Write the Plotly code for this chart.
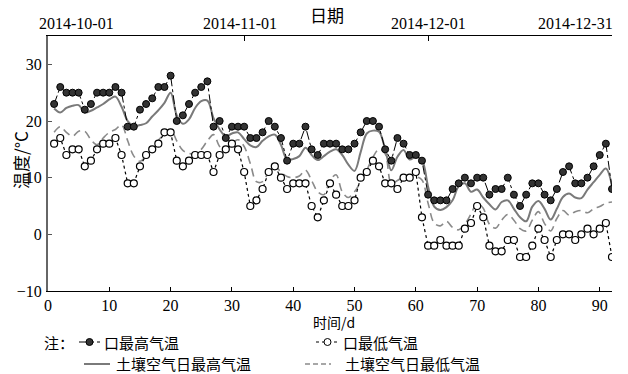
import plotly.graph_objects as go

days = list(range(1, 93))

daily_max = [23, 26, 25, 25, 25, 22, 23, 25, 25, 25, 26, 25, 19, 19, 22, 23, 24, 26, 26, 28,
             20, 21, 23, 25, 26, 27, 19, 20, 17, 19, 19, 19, 17, 17, 18, 20, 19, 17, 13, 16,
             16, 19, 15, 14, 16, 16, 16, 15, 15, 16, 18, 20, 20, 19, 15, 13, 17, 16, 14, 14,
             13, 7, 6, 6, 6, 8, 9, 10, 9, 10, 10, 7, 8, 8, 10, 7, 5, 7, 9, 9,
             7, 6, 8, 11, 12, 9, 9, 10, 12, 14, 16, 8]

daily_min = [16, 17, 14, 15, 15, 12, 13, 15, 16, 16, 17, 14, 9, 9, 12, 14, 15, 16, 18, 18,
             13, 12, 13, 14, 14, 14, 11, 14, 15, 16, 15, 11, 5, 6, 8, 11, 12, 10, 8, 9,
             9, 9, 5, 3, 6, 9, 7, 5, 5, 6, 10, 11, 13, 12, 9, 9, 8, 10, 10, 11,
             3, -2, -2, -1, -2, -2, -2, 1, 2, 5, 3, -2, -3, -3, -1, -1, -4, -4, -2, 1,
             -1, -4, -1, 0, 0, -1, 0, 1, 0, 1, 2, -4]

soil_max = [22.2, 21.5, 22.3, 22.7, 22.8, 21.5, 21.8, 22.4, 23.0, 23.8, 24.3, 22.5, 20.0, 19.1,
            19.3, 19.6, 20.8, 21.9, 23.2, 25.0, 21.0, 19.5, 20.3, 22.3, 23.5, 23.6, 20.5, 18.5,
            17.3, 17.8, 18.0, 16.8, 15.7, 15.4, 16.5, 17.3, 17.6, 15.8, 13.2, 13.3, 13.8, 15.3,
            14.0, 13.1, 13.8, 14.6, 15.0, 14.0, 12.3, 11.2, 14.5, 17.8, 18.3, 18.1, 15.0, 11.3,
            13.7, 14.9, 13.2, 13.7, 13.1, 8.4, 4.9, 4.3, 4.8, 6.0, 8.5, 9.0, 7.5, 7.9,
            6.5, 5.3, 4.4, 5.7, 6.0, 4.5, 3.0, 2.3, 4.9, 5.9, 4.5, 2.6, 4.5, 6.6,
            7.2, 6.5, 6.4, 7.9, 9.2, 10.5, 11.6, 8.6]

soil_min = [18.0, 19.0, 18.0, 17.3, 18.2, 18.2, 16.7, 15.8, 17.0, 18.0, 18.5, 19.3, 16.5, 13.8,
            12.9, 13.8, 15.2, 16.6, 17.7, 18.5, 16.5, 14.8, 14.3, 14.2, 15.0, 16.5, 17.6, 15.5,
            14.7, 16.0, 16.7, 15.5, 12.5, 9.3, 9.3, 11.0, 12.0, 11.0, 10.2, 10.0, 10.3, 11.3,
            9.5, 7.5, 7.0, 9.5, 10.5, 7.5, 6.5, 7.5, 9.3, 11.3, 13.6, 15.0, 14.2, 9.0,
            9.5, 10.1, 10.4, 10.2, 9.6, 5.5, 2.0, 1.5, 2.3, 1.2, 0.8, 1.8, 3.6, 5.5,
            4.6, 1.8, 1.1, 2.5, 3.5, 2.5, 1.0, 0.6, 2.5, 4.0, 1.9, 0.6, 2.8, 4.2,
            3.4, 4.0, 4.2, 3.8, 4.5, 4.9, 5.5, 5.7]

x_ticks = [0, 10, 20, 30, 40, 50, 60, 70, 80, 90]
y_ticks = [-10, 0, 10, 20, 30]
y_ticktext = ["\u221210", "0", "10", "20", "30"]
date_ticks = [32, 62, 92]
date_labels = ["2014-10-01", "2014-11-01", "2014-12-01", "2014-12-31"]
legend_names = ["口最高气温", "口最低气温", "土壤空气日最高气温", "土壤空气日最低气温"]

SERIF = "Liberation Serif, DejaVu Serif, serif"
CJK = "Noto Sans CJK SC"

W, H = 628, 374
L, R, T, B = 48, 612, 36, 291


def px(X):
    return (X - L) / (R - L)


def py(Y):
    return (B - Y) / (B - T)


fig = go.Figure()

fig.add_trace(go.Scatter(x=days, y=soil_max, mode="lines",
                         line=dict(color="#7a7a7a", width=2, shape="spline", smoothing=1.0),
                         showlegend=False))
fig.add_trace(go.Scatter(x=days, y=soil_min, mode="lines",
                         line=dict(color="#8a8a8a", width=1.6, dash="8px,5px", shape="spline", smoothing=1.0),
                         showlegend=False))
fig.add_trace(go.Scatter(x=days, y=daily_min, mode="lines+markers",
                         line=dict(color="black", width=1.2, dash="dot"),
                         marker=dict(symbol="circle", size=7, color="white", line=dict(color="black", width=1.2)),
                         showlegend=False))
fig.add_trace(go.Scatter(x=days, y=daily_max, mode="lines+markers",
                         line=dict(color="black", width=1, dash="dashdot"),
                         marker=dict(symbol="circle", size=7, color="#333333", line=dict(color="black", width=1)),
                         showlegend=False))
# top date axis
fig.add_trace(go.Scatter(x=[0, 92], y=[None, None], xaxis="x2", showlegend=False, hoverinfo="skip"))

fig.update_layout(
    width=W, height=H,
    margin=dict(l=L, r=W - R, t=T, b=H - B),
    paper_bgcolor="white", plot_bgcolor="white",
    font=dict(family=SERIF, size=14, color="black"),
    xaxis=dict(range=[0, 92], tickvals=x_ticks, ticks="inside", ticklen=4, tickcolor="black",
               showline=True, linecolor="black", linewidth=1, showgrid=False, zeroline=False,
               tickfont=dict(family=SERIF, size=16), ticklabelstandoff=0),
    xaxis2=dict(range=[0, 92], overlaying="x", side="top", tickvals=date_ticks, ticks="inside",
                ticklen=5, tickcolor="black", showticklabels=False, showline=True, linecolor="black",
                linewidth=1, showgrid=False, zeroline=False),
    yaxis=dict(range=[-10, 35], tickvals=y_ticks, ticktext=y_ticktext, ticks="inside", ticklen=4,
               tickcolor="#555", showline=True, linecolor="#666", linewidth=2, showgrid=False,
               zeroline=False, tickfont=dict(family=SERIF, size=16), ticklabelstandoff=1),
)

ann = []
# top labels
ann.append(dict(x=px(37), y=py(24), text=date_labels[0], xanchor="left"))
ann.append(dict(x=px(240), y=py(24), text=date_labels[1], xanchor="center"))
ann.append(dict(x=px(429), y=py(24), text=date_labels[2], xanchor="center"))
ann.append(dict(x=px(615), y=py(24), text=date_labels[3], xanchor="right"))
for a in ann:
    a.update(xref="paper", yref="paper", yanchor="middle", showarrow=False,
             font=dict(family=SERIF, size=16, color="black"))
ann.append(dict(x=px(327), y=py(14), xref="paper", yref="paper", text="日期", showarrow=False,
                xanchor="center", yanchor="middle", font=dict(family=CJK, size=17)))
ann.append(dict(x=px(334), y=py(322), xref="paper", yref="paper", text="时间/d", showarrow=False,
                xanchor="center", yanchor="middle", borderpad=0, font=dict(family=CJK, size=14)))
ann.append(dict(x=px(20), y=py(160), xref="paper", yref="paper", text="温度/°C", showarrow=False,
                textangle=-90, xanchor="center", yanchor="middle", font=dict(family=CJK, size=17)))
# legend
ann.append(dict(x=px(43), y=py(342), text="注：", xanchor="left"))
ann.append(dict(x=px(103), y=py(342), text=legend_names[0], xanchor="left"))
ann.append(dict(x=px(342), y=py(342), text=legend_names[1], xanchor="left"))
ann.append(dict(x=px(115), y=py(364), text=legend_names[2], xanchor="left"))
ann.append(dict(x=px(344), y=py(364), text=legend_names[3], xanchor="left"))
for a in ann[-5:]:
    a.update(xref="paper", yref="paper", yanchor="middle", showarrow=False, borderpad=0,
             font=dict(family=CJK, size=15, color="black"))
fig.update_layout(annotations=ann)

shapes = []
r = 3.5
# legend symbol: daily max
shapes.append(dict(type="line", x0=px(79), x1=px(100), y0=py(342), y1=py(342),
                   line=dict(color="black", width=1, dash="dashdot")))
shapes.append(dict(type="circle", x0=px(89.5 - r), x1=px(89.5 + r), y0=py(342 + r), y1=py(342 - r),
                   fillcolor="#333333", line=dict(color="black", width=1)))
# legend symbol: daily min
shapes.append(dict(type="line", x0=px(316), x1=px(339), y0=py(342), y1=py(342),
                   line=dict(color="black", width=1, dash="dot")))
shapes.append(dict(type="circle", x0=px(327.5 - r), x1=px(327.5 + r), y0=py(342 + r), y1=py(342 - r),
                   fillcolor="white", line=dict(color="black", width=1)))
# legend symbol: soil max
shapes.append(dict(type="line", x0=px(84), x1=px(110), y0=py(364), y1=py(364),
                   line=dict(color="#7a7a7a", width=2)))
# legend symbol: soil min
shapes.append(dict(type="line", x0=px(305), x1=px(331), y0=py(364), y1=py(364),
                   line=dict(color="#8a8a8a", width=1.5, dash="5px,3px")))
for s in shapes:
    s.update(xref="paper", yref="paper")
fig.update_layout(shapes=shapes)

fig.write_html("out.html")
